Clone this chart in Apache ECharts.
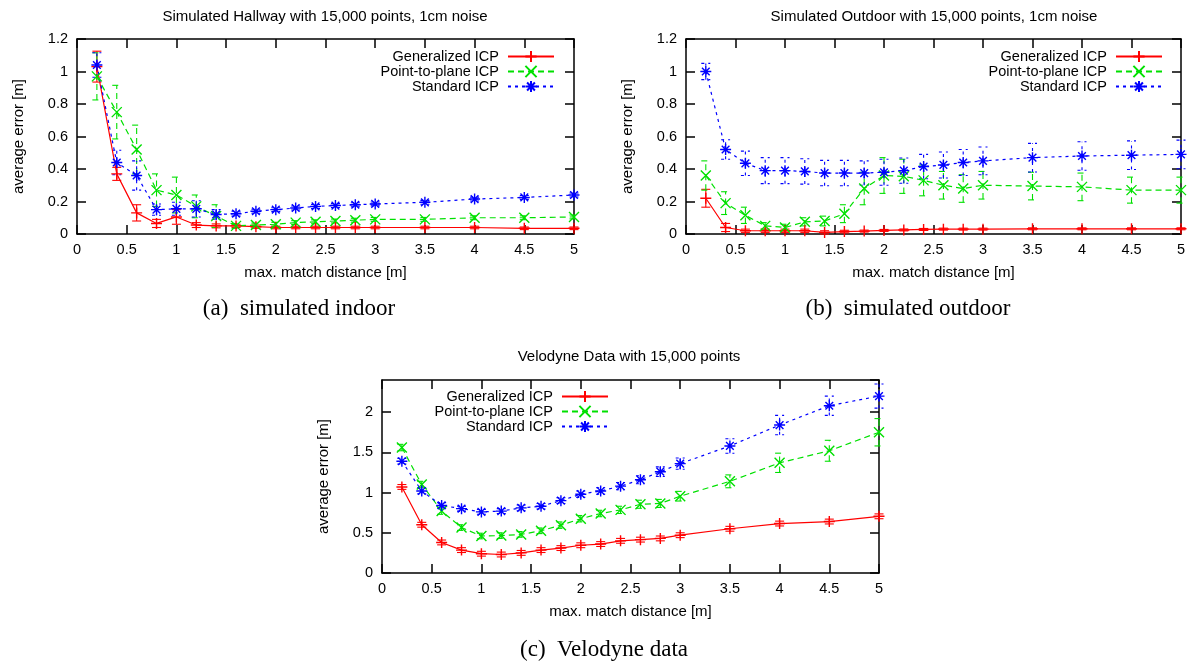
<!DOCTYPE html>
<html>
<head>
<meta charset="utf-8">
<title>ICP average error vs max. match distance</title>
<script src="https://cdn.jsdelivr.net/npm/echarts@6/dist/echarts.min.js"></script>
<style>
  html, body { margin: 0; padding: 0; background: #fff; }
  #chart { width: 1194px; height: 664px; }
</style>
</head>
<body>
<div id="chart"></div>
<script>
// x positions shared by all three plots (max. match distance, m)
var dist = [0.2, 0.4, 0.6, 0.8, 1.0, 1.2, 1.4, 1.6, 1.8, 2.0, 2.2, 2.4, 2.6, 2.8, 3.0, 3.5, 4.0, 4.5, 5.0];
var methodNames = ['Generalized ICP', 'Point-to-plane ICP', 'Standard ICP'];

// (a) simulated hallway: mean error and error-bar half width
var hallGicp    = [1.03, 0.37, 0.13, 0.065, 0.105, 0.055, 0.05, 0.05, 0.045, 0.04, 0.04, 0.04, 0.04, 0.04, 0.04, 0.04, 0.04, 0.035, 0.035];
var hallGicpErr = [0.095, 0.04, 0.05, 0.025, 0.045, 0.015, 0.012, 0.01, 0.01, 0.008, 0.008, 0.008, 0.008, 0.008, 0.008, 0.008, 0.008, 0.008, 0.008];
var hallPtp     = [0.97, 0.75, 0.52, 0.27, 0.24, 0.17, 0.11, 0.05, 0.055, 0.06, 0.07, 0.075, 0.08, 0.085, 0.09, 0.09, 0.1, 0.1, 0.105];
var hallPtpErr  = [0.145, 0.165, 0.15, 0.1, 0.11, 0.07, 0.07, 0.015, 0.012, 0.012, 0.012, 0.012, 0.012, 0.012, 0.012, 0.012, 0.012, 0.012, 0.012];
var hallStd     = [1.04, 0.44, 0.36, 0.15, 0.155, 0.155, 0.12, 0.125, 0.14, 0.15, 0.16, 0.17, 0.175, 0.18, 0.185, 0.195, 0.215, 0.225, 0.24];
var hallStdErr  = [0.075, 0.075, 0.09, 0.035, 0.04, 0.05, 0.03, 0.015, 0.012, 0.012, 0.012, 0.012, 0.012, 0.012, 0.012, 0.012, 0.012, 0.012, 0.012];

// (b) simulated outdoor
var outGicp     = [0.22, 0.04, 0.02, 0.02, 0.02, 0.02, 0.01, 0.015, 0.018, 0.022, 0.025, 0.028, 0.03, 0.03, 0.03, 0.032, 0.032, 0.032, 0.032];
var outGicpErr  = [0.055, 0.025, 0.01, 0.01, 0.01, 0.01, 0.01, 0.008, 0.006, 0.006, 0.006, 0.006, 0.006, 0.006, 0.006, 0.006, 0.006, 0.006, 0.006];
var outPtp      = [0.36, 0.19, 0.115, 0.05, 0.04, 0.075, 0.08, 0.125, 0.28, 0.36, 0.355, 0.33, 0.30, 0.28, 0.30, 0.295, 0.29, 0.27, 0.27];
var outPtpErr   = [0.09, 0.07, 0.05, 0.02, 0.02, 0.025, 0.03, 0.055, 0.1, 0.11, 0.105, 0.095, 0.085, 0.085, 0.085, 0.085, 0.085, 0.08, 0.08];
var outStd      = [1.0, 0.52, 0.435, 0.39, 0.39, 0.385, 0.375, 0.375, 0.375, 0.38, 0.39, 0.415, 0.425, 0.44, 0.45, 0.47, 0.48, 0.485, 0.49];
var outStdErr   = [0.05, 0.06, 0.075, 0.08, 0.08, 0.078, 0.078, 0.078, 0.075, 0.08, 0.078, 0.075, 0.08, 0.08, 0.085, 0.088, 0.088, 0.088, 0.088];

// (c) velodyne data
var veloGicp    = [1.07, 0.6, 0.38, 0.285, 0.24, 0.23, 0.25, 0.285, 0.31, 0.345, 0.36, 0.4, 0.415, 0.43, 0.47, 0.55, 0.615, 0.64, 0.705];
var veloGicpErr = [0.03, 0.03, 0.03, 0.03, 0.03, 0.03, 0.03, 0.03, 0.03, 0.03, 0.03, 0.03, 0.03, 0.03, 0.03, 0.03, 0.03, 0.03, 0.03];
var veloPtp     = [1.56, 1.1, 0.77, 0.565, 0.46, 0.465, 0.48, 0.525, 0.595, 0.675, 0.74, 0.785, 0.855, 0.865, 0.955, 1.14, 1.37, 1.52, 1.75];
var veloPtpErr  = [0.04, 0.04, 0.04, 0.035, 0.035, 0.035, 0.035, 0.035, 0.04, 0.04, 0.04, 0.045, 0.05, 0.05, 0.06, 0.08, 0.12, 0.13, 0.17];
var veloStd     = [1.39, 1.02, 0.84, 0.8, 0.76, 0.77, 0.81, 0.83, 0.9, 0.98, 1.02, 1.08, 1.16, 1.26, 1.36, 1.58, 1.84, 2.08, 2.2];
var veloStdErr  = [0.035, 0.035, 0.035, 0.03, 0.03, 0.03, 0.035, 0.035, 0.035, 0.04, 0.04, 0.045, 0.05, 0.06, 0.07, 0.09, 0.12, 0.12, 0.15];

var FONT = '"Liberation Sans", Arial, sans-serif';
var SERIF = '"Liberation Serif", "Times New Roman", serif';

// gnuplot style point types: +, x, *
var plusPath = 'path://M0,5L10,5M5,0L5,10';
var crossPath = 'path://M1,1L9,9M9,1L1,9';
var starPath = 'path://M0,5L10,5M5,0L5,10M1.5,1.5L8.5,8.5M8.5,1.5L1.5,8.5';

var looks = [
  { color: '#ff0000', dash: 'solid', lineDash: null, symbol: plusPath, size: 11 },
  { color: '#00e000', dash: [6, 4], lineDash: [6, 4], symbol: crossPath, size: 10 },
  { color: '#0000ff', dash: [3, 4], lineDash: [3, 4], symbol: starPath, size: 11 }
];

var panels = [
  {
    grid: { left: 77, top: 39, width: 497, height: 195 },
    ymax: 1.2, yint: 0.2,
    data: [[hallGicp, hallGicpErr], [hallPtp, hallPtpErr], [hallStd, hallStdErr]],
    legendRight: 639, legendTop: 49,
    title: 'Simulated Hallway with 15,000 points, 1cm noise', titleX: 325, titleY: 17,
    caption: '(a)  simulated indoor', capX: 299, capY: 309
  },
  {
    grid: { left: 686, top: 39, width: 495, height: 195 },
    ymax: 1.2, yint: 0.2,
    data: [[outGicp, outGicpErr], [outPtp, outPtpErr], [outStd, outStdErr]],
    legendRight: 31, legendTop: 49,
    title: 'Simulated Outdoor with 15,000 points, 1cm noise', titleX: 934, titleY: 17,
    caption: '(b)  simulated outdoor', capX: 908, capY: 309
  },
  {
    grid: { left: 382, top: 380, width: 497, height: 193 },
    ymax: 2.4, yint: 0.5,
    data: [[veloGicp, veloGicpErr], [veloPtp, veloPtpErr], [veloStd, veloStdErr]],
    legendRight: 585, legendTop: 389,
    title: 'Velodyne Data with 15,000 points', titleX: 629, titleY: 357,
    caption: '(c)  Velodyne data', capX: 604, capY: 650
  }
];

// vertical error bar with caps, drawn in the series' own dash style
function errRenderer(look) {
  return function (params, api) {
    var x = api.value(0);
    var lo = api.coord([x, api.value(1)]);
    var hi = api.coord([x, api.value(2)]);
    var cap = 4.5;
    var style = { stroke: look.color, lineWidth: 1.1, lineDash: look.lineDash, fill: null };
    return {
      type: 'group',
      children: [
        { type: 'line', shape: { x1: lo[0], y1: lo[1], x2: hi[0], y2: hi[1] }, style: style },
        { type: 'line', shape: { x1: lo[0] - cap, y1: lo[1], x2: lo[0] + cap, y2: lo[1] }, style: style },
        { type: 'line', shape: { x1: hi[0] - cap, y1: hi[1], x2: hi[0] + cap, y2: hi[1] }, style: style }
      ]
    };
  };
}

var axisLine = { show: true, onZero: false, lineStyle: { color: '#000', width: 1.5 } };
var axisTick = { show: true, inside: true, length: 9, lineStyle: { color: '#000', width: 1.5 } };
var tickFont = { color: '#000', fontSize: 14.5, fontFamily: FONT };
var nameFont = { color: '#000', fontSize: 15, fontFamily: FONT };

var option = {
  animation: false,
  backgroundColor: '#fff',
  grid: [], xAxis: [], yAxis: [], legend: [], series: [], graphic: []
};

panels.forEach(function (p, i) {
  option.grid.push({
    left: p.grid.left, top: p.grid.top, width: p.grid.width, height: p.grid.height,
    outerBoundsMode: 'none', show: false
  });
  option.xAxis.push({
    type: 'value', gridIndex: i, min: 0, max: 5, interval: 0.5,
    axisLine: axisLine, axisTick: axisTick, splitLine: { show: false },
    axisLabel: Object.assign({ margin: 8 }, tickFont),
    name: 'max. match distance [m]', nameLocation: 'middle', nameGap: 31, nameTextStyle: nameFont
  }, {
    type: 'value', gridIndex: i, position: 'top', min: 0, max: 5, interval: 0.5,
    axisLine: axisLine, axisTick: axisTick, splitLine: { show: false }, axisLabel: { show: false }
  });
  option.yAxis.push({
    type: 'value', gridIndex: i, min: 0, max: p.ymax, interval: p.yint,
    axisLine: axisLine, axisTick: axisTick, splitLine: { show: false },
    axisLabel: Object.assign({ margin: 9, showMaxLabel: p.ymax === 1.2 }, tickFont),
    name: 'average error [m]', nameLocation: 'middle', nameGap: 51, nameRotate: 90, nameTextStyle: nameFont
  }, {
    type: 'value', gridIndex: i, position: 'right', min: 0, max: p.ymax, interval: p.yint,
    axisLine: axisLine, axisTick: axisTick, splitLine: { show: false }, axisLabel: { show: false }
  });
  option.legend.push({
    orient: 'vertical', align: 'right', right: p.legendRight, top: p.legendTop,
    padding: 0, itemWidth: 46, itemHeight: 14, itemGap: 0, selectedMode: false,
    data: methodNames,
    formatter: function (n) { return n + ' '; },
    textStyle: { color: '#000', fontSize: 14.5, fontFamily: FONT, lineHeight: 14 }
  });

  p.data.forEach(function (d, k) {
    var look = looks[k];
    var vals = d[0], errs = d[1];
    option.series.push({
      type: 'custom', name: methodNames[k] + ' error ' + i,
      xAxisIndex: 2 * i, yAxisIndex: 2 * i, clip: false, silent: true, z: 2,
      encode: { x: 0, y: [1, 2] },
      data: dist.map(function (x, j) { return [x, vals[j] - errs[j], vals[j] + errs[j]]; }),
      renderItem: errRenderer(look)
    });
    option.series.push({
      type: 'line', name: methodNames[k],
      xAxisIndex: 2 * i, yAxisIndex: 2 * i, z: 3,
      data: dist.map(function (x, j) { return [x, vals[j]]; }),
      symbol: look.symbol, symbolSize: look.size, showAllSymbol: true,
      lineStyle: { color: look.color, width: 1.2, type: look.dash },
      itemStyle: { color: look.color, borderColor: look.color, borderWidth: 1.4 },
      emphasis: { disabled: true }
    });
  });

  option.graphic.push({
    type: 'text', x: p.titleX, y: p.titleY, silent: true,
    style: { text: p.title, align: 'center', verticalAlign: 'middle', fontSize: 15, fontFamily: FONT, fill: '#000' }
  }, {
    type: 'text', x: p.capX, y: p.capY, silent: true,
    style: { text: p.caption, align: 'center', verticalAlign: 'middle', fontSize: 23, fontFamily: SERIF, fill: '#000' }
  });
});

var chart = echarts.init(document.getElementById('chart'));
chart.setOption(option);
</script>
</body>
</html>
